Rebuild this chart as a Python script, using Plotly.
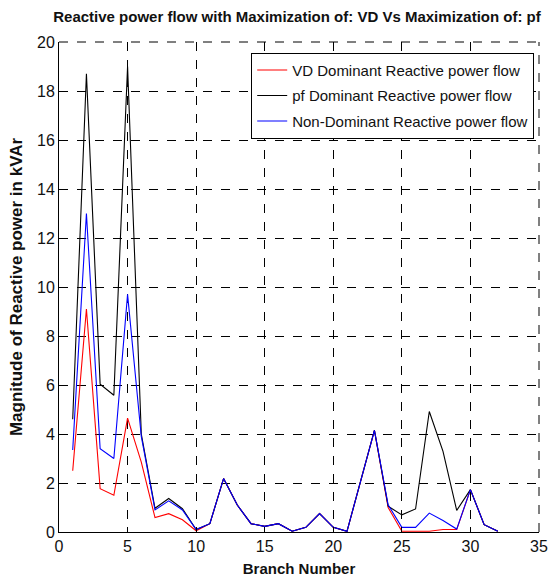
import plotly.graph_objects as go

branches = list(range(1, 33))

vd_dominant = [2.5, 9.1, 1.77, 1.5, 4.65, 2.85, 0.59, 0.75, 0.5, 0.05,
               0.34, 2.18, 1.1, 0.34, 0.23, 0.34, 0.03, 0.19, 0.75, 0.19,
               0.03, 2.13, 4.15, 1.0, 0.03, 0.03, 0.03, 0.1, 0.1, 1.73,
               0.3, 0.03]

pf_dominant = [4.6, 18.7, 6.03, 5.58, 19.0, 4.0, 0.97, 1.37, 0.95, 0.1,
               0.34, 2.18, 1.1, 0.34, 0.23, 0.34, 0.03, 0.19, 0.75, 0.19,
               0.03, 2.13, 4.15, 1.05, 0.7, 0.94, 4.92, 3.29, 0.88, 1.73,
               0.3, 0.03]

non_dominant = [3.35, 13.0, 3.4, 3.0, 9.7, 3.9, 0.9, 1.27, 0.9, 0.1,
                0.34, 2.18, 1.1, 0.34, 0.23, 0.34, 0.03, 0.19, 0.75, 0.19,
                0.03, 2.13, 4.15, 1.11, 0.19, 0.19, 0.77, 0.47, 0.12, 1.73,
                0.3, 0.03]

names = ["VD Dominant Reactive power flow",
         "pf Dominant Reactive power flow",
         "Non-Dominant Reactive power flow"]
colors = ["#ff0000", "#000000", "#0000ff"]

x_ticks = [0, 5, 10, 15, 20, 25, 30, 35]
y_ticks = [0, 2, 4, 6, 8, 10, 12, 14, 16, 18, 20]

FONT = "Liberation Sans, Arial, sans-serif"

fig = go.Figure()
for i, (series, name, color) in enumerate(zip([vd_dominant, pf_dominant, non_dominant], names, colors)):
    fig.add_trace(go.Scatter(x=branches, y=series, mode="lines", name=name,
                             legendgroup=f"g{i}",
                             line=dict(color=color, width=1.1)))

# dashed grid lines on the top and right edges of the box
fig.add_shape(type="line", xref="paper", yref="paper", x0=1, x1=1, y0=0, y1=1,
              line=dict(color="black", width=1, dash="dash"), layer="below")
fig.add_shape(type="line", xref="paper", yref="paper", x0=0, x1=1, y0=1, y1=1,
              line=dict(color="black", width=1, dash="dash"), layer="below")

fig.update_layout(
    width=550, height=583,
    margin=dict(l=59, r=11, t=42, b=51, autoexpand=False),
    paper_bgcolor="white", plot_bgcolor="white",
    title=dict(text="<b>Reactive power flow with Maximization of: VD Vs Maximization of: pf</b>",
               x=0.54, xanchor="center", y=0.972, yanchor="middle",
               font=dict(family=FONT, size=15, color="#111111")),
    legend=dict(x=0.99, xanchor="right", y=0.978, yanchor="top",
                bgcolor="white", bordercolor="black", borderwidth=1,
                tracegroupgap=3,
                font=dict(family=FONT, size=15, color="#111111")),
    showlegend=True,
)
fig.update_xaxes(range=[0, 35], tickvals=x_ticks, ticktext=[str(v) for v in x_ticks],
                 automargin=False,
                 showgrid=True, gridcolor="black", griddash="dash", gridwidth=1,
                 showline=True, linecolor="black", linewidth=1, mirror=False,
                 ticks="inside", ticklen=5, tickcolor="black", zeroline=False,
                 tickfont=dict(family=FONT, size=16, color="#111111"),
                 title=dict(text="<b>Branch Number</b>", standoff=9,
                            font=dict(family=FONT, size=15, color="#111111")))
fig.update_yaxes(range=[0, 20], tickvals=y_ticks, ticktext=[str(v) for v in y_ticks],
                 automargin=False,
                 showgrid=True, gridcolor="black", griddash="dash", gridwidth=1,
                 showline=True, linecolor="black", linewidth=1, mirror=False,
                 ticks="inside", ticklen=5, tickcolor="black", zeroline=False,
                 tickfont=dict(family=FONT, size=16, color="#111111"),
                 title=dict(text="<b>Magnitude of Reactive power in kVAr</b>", standoff=10,
                            font=dict(family=FONT, size=17, color="#111111")))

fig.write_html("out.html")
